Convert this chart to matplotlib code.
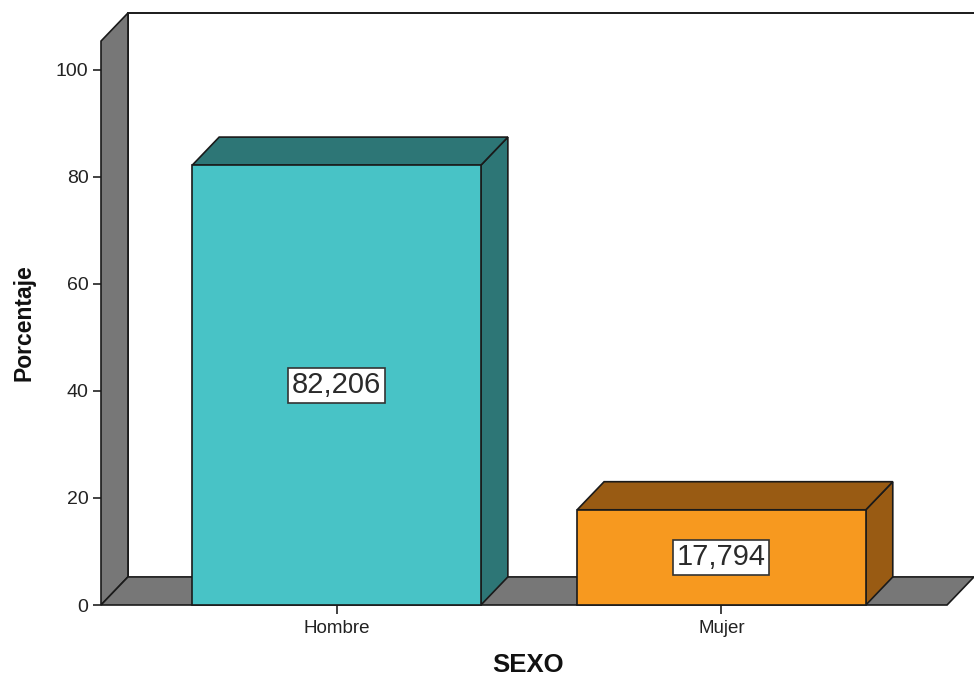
#!/usr/bin/env python
# coding=utf-8
"""
SPSS-style 3D bar chart: Porcentaje por SEXO
"""

import matplotlib
matplotlib.use('Agg')
import matplotlib.pyplot as plt
from matplotlib.patches import Polygon, Rectangle

plt.rcParams['font.family'] = ['Liberation Sans', 'DejaVu Sans']

#  Data
categories = ['Hombre', 'Mujer']
percentages = [82.206, 17.794]
value_labels = ['82,206', '17,794']
y_ticks = [0, 20, 40, 60, 80, 100]

#  Colours (front face, side/top face)
front_colors = ['#48C3C6', '#F7991F']
shade_colors = ['#2D7676', '#995B13']
wall_color = '#777777'
edge_color = '#1a1a1a'

#  Geometry (category units / percent units)
bar_width = 0.75
depth_x = 0.07
depth_y = 5.25
x_left = -0.612
x_right = 1.586
wall_top = 105.4


def face(ax, pts, color, zorder):
    ax.add_patch(Polygon(pts, closed=True, facecolor=color,
                         edgecolor=edge_color, linewidth=1.2,
                         joinstyle='miter', zorder=zorder, clip_on=False))


fig = plt.figure(figsize=(9.74, 6.77), dpi=100)
ax = fig.add_axes([101 / 974, 72 / 677, 873 / 974, 592 / 677])
ax.set_xlim(x_left, x_right + depth_x)
ax.set_ylim(0, wall_top + depth_y)

for sp in ax.spines.values():
    sp.set_visible(False)

#  Back wall outline
ax.plot([x_left + depth_x, x_left + depth_x, x_right + depth_x + 0.01],
        [depth_y, wall_top + depth_y, wall_top + depth_y],
        color=edge_color, linewidth=1.4, zorder=1, clip_on=False,
        solid_joinstyle='miter')

#  Left wall
face(ax, [(x_left, 0), (x_left + depth_x, depth_y),
          (x_left + depth_x, wall_top + depth_y), (x_left, wall_top)],
     wall_color, 2)

#  Floor
face(ax, [(x_left, 0), (x_right, 0), (x_right + depth_x, depth_y),
          (x_left + depth_x, depth_y)], wall_color, 2)

#  Bars
for i, val in enumerate(percentages):
    x0 = i - bar_width / 2
    x1 = i + bar_width / 2
    face(ax, [(x1, 0), (x1 + depth_x, depth_y), (x1 + depth_x, val + depth_y),
              (x1, val)], shade_colors[i], 3)
    face(ax, [(x0, val), (x1, val), (x1 + depth_x, val + depth_y),
              (x0 + depth_x, val + depth_y)], shade_colors[i], 3)
    ax.add_patch(Rectangle((x0, 0), bar_width, val, facecolor=front_colors[i],
                           edgecolor=edge_color, linewidth=1.2, zorder=4,
                           clip_on=False))
    ax.text(i, val / 2, value_labels[i], ha='center', va='center',
            fontsize=21, color='#2a2a2a', zorder=5,
            bbox=dict(boxstyle='square,pad=0.12', facecolor='white',
                      edgecolor='#333333', linewidth=1.2))

#  Ticks
ax.set_yticks(y_ticks)
ax.set_yticklabels([str(t) for t in y_ticks])
ax.set_xticks(range(len(categories)))
ax.set_xticklabels(categories)
ax.tick_params(axis='y', direction='out', length=6, width=1.3,
               color='#333333', labelsize=14, pad=3, labelcolor='#222222')
ax.tick_params(axis='x', direction='out', length=6.5, width=1.3,
               color='#333333', labelsize=13.5, pad=4, labelcolor='#222222')

fig.text(24 / 974, 1 - 323 / 677, 'Porcentaje', rotation=90, ha='center',
         va='center', fontsize=16.5, fontweight='bold', color='#111111')
fig.text(528 / 974, 1 - 665 / 677, 'SEXO', ha='center', va='center',
         fontsize=18.5, fontweight='bold', color='#111111')

fig.savefig('out.png', dpi=100)
plt.close()
